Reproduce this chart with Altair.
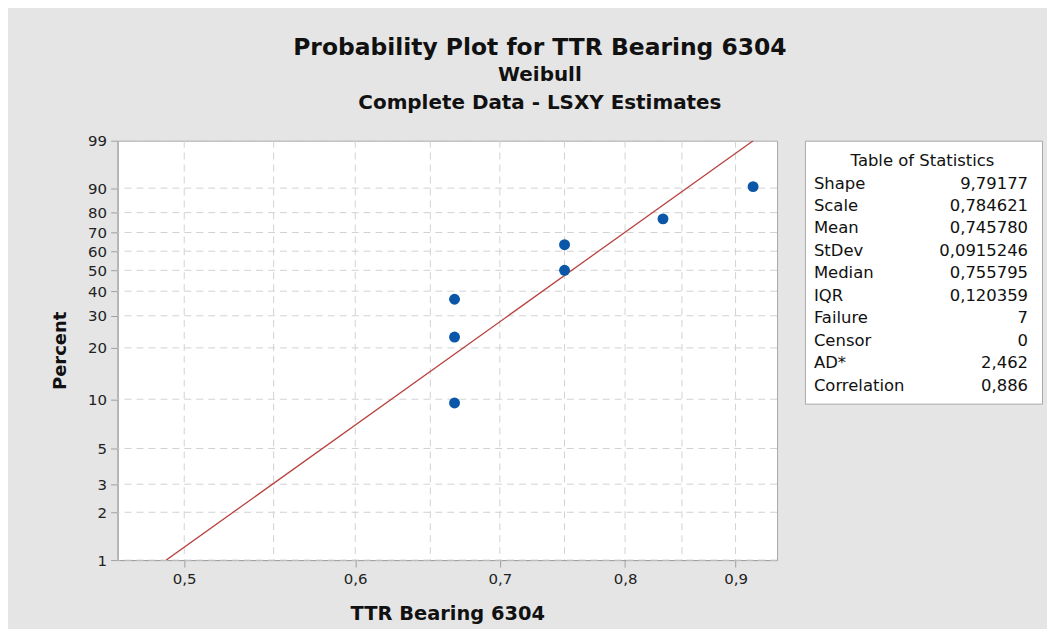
import altair as alt
import pandas as pd
import numpy as np

# ---- data ----
ttr = [0.667, 0.667, 0.667, 0.75, 0.75, 0.833, 0.917]
percent = [9.5, 23.0, 36.5, 50.0, 63.5, 77.0, 90.5]
shape_param = 9.79177
scale_param = 0.784621
fit_percent = [1, 99]
y_ticks = [1, 2, 3, 5, 10, 20, 30, 40, 50, 60, 70, 80, 90, 99]
x_ticks = [0.5, 0.6, 0.7, 0.8, 0.9]
x_grid = [0.5, 0.55, 0.6, 0.65, 0.7, 0.75, 0.8, 0.85, 0.9]
stat_names = ["Shape", "Scale", "Mean", "StDev", "Median", "IQR",
              "Failure", "Censor", "AD*", "Correlation"]
stat_values = ["9,79177", "0,784621", "0,745780", "0,0915246", "0,755795",
               "0,120359", "7", "0", "2,462", "0,886"]

FONT = "DejaVu Sans"

# Weibull probability scale (library transform of percent)
def wtrans(p):
    return float(np.log(-np.log(1 - p / 100.0)))

y_tick_vals = [wtrans(p) for p in y_ticks]
y_dom = [wtrans(1), wtrans(99)]
x_dom = [0.4657, 0.9407]

W, H = 662, 421

xs = alt.Scale(type="log", domain=x_dom, nice=False, zero=False)
ys = alt.Scale(domain=y_dom, nice=False, zero=False)

x_axis = alt.Axis(
    title="TTR Bearing 6304", values=x_ticks, grid=False,
    labelExpr="replace(format(datum.value, '.1f'), '.', ',')",
    tickSize=7, labelPadding=5, titlePadding=18, titleFontSize=19.5,
    titleFontWeight="bold", labelOverlap=False,
)
y_axis = alt.Axis(
    title="Percent", values=y_tick_vals, grid=False,
    labelExpr="format(100 * (1 - exp(-exp(datum.value))), '.0f')",
    tickSize=7, labelPadding=4, titlePadding=18, titleFontSize=18,
    titleFontWeight="bold", labelOverlap=False,
)

WEXPR = "log(-log(1 - datum.p / 100))"

grid_x = alt.Chart(pd.DataFrame({"x": x_grid})).mark_rule(
    color="#d2d2d2", strokeDash=[7, 5], strokeWidth=1
).encode(x=alt.X("x:Q", scale=xs, axis=x_axis))

grid_y = alt.Chart(pd.DataFrame({"p": y_ticks})).transform_calculate(
    wy=WEXPR
).mark_rule(color="#d2d2d2", strokeDash=[7, 5], strokeWidth=1).encode(
    y=alt.Y("wy:Q", scale=ys, axis=y_axis)
)

fit = alt.Chart(pd.DataFrame({"p": fit_percent})).transform_calculate(
    wy=WEXPR,
    x=f"{scale_param} * pow(-log(1 - datum.p / 100), 1 / {shape_param})",
).mark_line(color="#b8423f", strokeWidth=1.3, clip=True).encode(
    x=alt.X("x:Q", scale=xs, axis=x_axis),
    y=alt.Y("wy:Q", scale=ys, axis=y_axis),
)

pts = alt.Chart(pd.DataFrame({"t": ttr, "p": percent})).transform_calculate(
    wy=WEXPR
).mark_circle(size=120, color="#0a56a8", opacity=1).encode(
    x=alt.X("t:Q", scale=xs, axis=x_axis),
    y=alt.Y("wy:Q", scale=ys, axis=y_axis),
)

main = alt.layer(grid_x, grid_y, fit, pts).properties(width=W, height=H)

# ---- table of statistics ----
tbl = pd.DataFrame({
    "row": list(range(1, len(stat_names) + 1)),
    "name": stat_names,
    "val": stat_values,
})
hdr = pd.DataFrame({"row": [0], "name": ["Table of Statistics"]})
ts = alt.Scale(domain=[-0.907, 10.8], reverse=True, nice=False, zero=False)

TFS = 16.5
t_hdr = alt.Chart(hdr).mark_text(
    align="center", baseline="middle", fontSize=TFS, font=FONT, color="#111"
).encode(x=alt.value(118), y=alt.Y("row:Q", scale=ts, axis=None), text="name:N")
t_name = alt.Chart(tbl).mark_text(
    align="left", baseline="middle", fontSize=TFS, font=FONT, color="#111"
).encode(x=alt.value(9), y=alt.Y("row:Q", scale=ts, axis=None), text="name:N")
t_val = alt.Chart(tbl).mark_text(
    align="right", baseline="middle", fontSize=TFS, font=FONT, color="#111"
).encode(x=alt.value(224), y=alt.Y("row:Q", scale=ts, axis=None), text="val:N")

table = alt.layer(t_hdr, t_name, t_val).properties(width=238, height=264)

chart = alt.hconcat(main, table, spacing=26).properties(
    title=alt.TitleParams(
        text="Probability Plot for TTR Bearing 6304",
        subtitle=["Weibull", "Complete Data - LSXY Estimates"],
        fontSize=23.5, fontWeight="bold", font=FONT, color="#111",
        subtitleFontSize=20, subtitleFont=FONT, subtitleColor="#111",
        subtitleFontWeight="bold",
        subtitleLineHeight=28, subtitlePadding=6,
        anchor="middle", offset=20, dx=-7,
    ),
    padding={"left": 43, "top": 27, "right": 4, "bottom": 4},
    background="#e5e5e5",
).configure_view(
    stroke="#a8a8a8", fill="white", strokeWidth=1
).configure_axis(
    domainColor="#a0a0a0", tickColor="#a0a0a0",
    labelFont=FONT, labelFontSize=15, labelColor="#222",
    titleFont=FONT, titleColor="#111",
)

chart.save("out.html", embed_options={"renderer": "svg", "actions": False})
